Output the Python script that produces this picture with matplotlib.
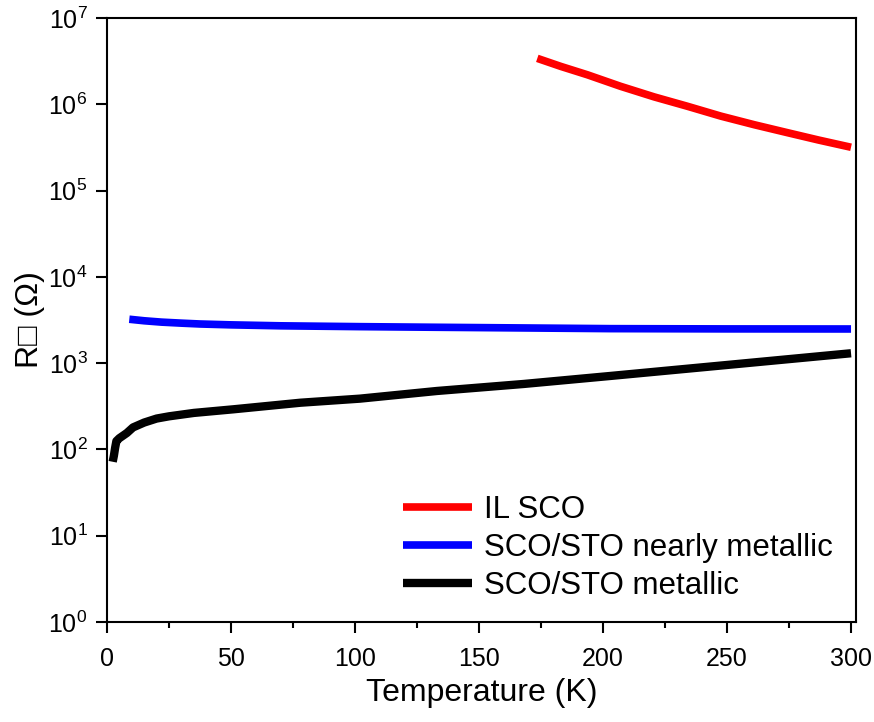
import math
import matplotlib
matplotlib.use("Agg")
import matplotlib.pyplot as plt
from matplotlib.ticker import FixedLocator, MultipleLocator, NullLocator, FuncFormatter

plt.rcParams['font.family'] = ['Liberation Sans', 'DejaVu Sans']
plt.rcParams['mathtext.default'] = 'regular'

# IL SCO
t_il = [173.5, 183, 193.7, 207, 220.6, 234, 247.5, 261, 274.4, 287, 300]
r_il = [3.41e6, 2.75e6, 2.20e6, 1.62e6, 1.22e6, 9.5e5, 7.3e5, 5.8e5, 4.69e5, 3.85e5, 3.18e5]

# SCO/STO nearly metallic
t_nm = [9.0, 15, 22, 30, 37.5, 50, 70, 102, 130, 160, 203, 250, 300]
r_nm = [3230, 3100, 2990, 2910, 2845, 2780, 2710, 2650, 2610, 2570, 2513, 2495, 2490]

# SCO/STO metallic
t_m = [2.3, 2.8, 3.3, 3.8, 5, 8, 10.5, 15, 20, 25, 35, 51, 78, 102, 133, 168, 203, 250, 300]
r_m = [72, 85, 105, 125, 135, 155, 180, 205, 228, 242, 265, 292, 348, 388, 476, 574, 711, 953, 1303]

fig = plt.figure(figsize=(8.74, 7.22), dpi=100)
ax = fig.add_axes([0.1224, 0.1385, 0.857, 0.8365])

ax.plot(t_il, r_il, color='#ff0000', lw=5.5, label='IL SCO', solid_capstyle='butt')
ax.plot(t_nm, r_nm, color='#0000ff', lw=5.5, label='SCO/STO nearly metallic', solid_capstyle='butt')
ax.plot(t_m, r_m, color='#000000', lw=6, label='SCO/STO metallic', solid_capstyle='butt')

ax.set_yscale('log')
ax.set_xlim(0, 302)
ax.set_ylim(1, 1e7)
ax.xaxis.set_major_locator(MultipleLocator(50))
ax.xaxis.set_minor_locator(MultipleLocator(25))
ax.yaxis.set_major_locator(FixedLocator([10.0**k for k in range(8)]))
ax.yaxis.set_minor_locator(NullLocator())
ax.yaxis.set_major_formatter(FuncFormatter(lambda v, p: '10$^{%d}$' % round(math.log10(v))))

ax.tick_params(which='major', direction='out', length=8, width=1.5, labelsize=18)
ax.tick_params(axis='x', which='major', pad=10)
ax.tick_params(axis='y', which='major', pad=6)
ax.tick_params(which='minor', direction='out', length=4.5, width=1.5)
for s in ax.spines.values():
    s.set_linewidth(1.5)

ax.set_xlabel('Temperature (K)', fontsize=23, labelpad=5)
ax.set_ylabel('R\u25a1 (\u03a9)', fontsize=23, labelpad=2)

ax.legend(loc='lower left', bbox_to_anchor=(0.395, 0.035), frameon=False, fontsize=22.5,
          handlelength=2.2, handletextpad=0.4, labelspacing=0.26, borderpad=0, borderaxespad=0)

fig.savefig('out.png', dpi=100)
